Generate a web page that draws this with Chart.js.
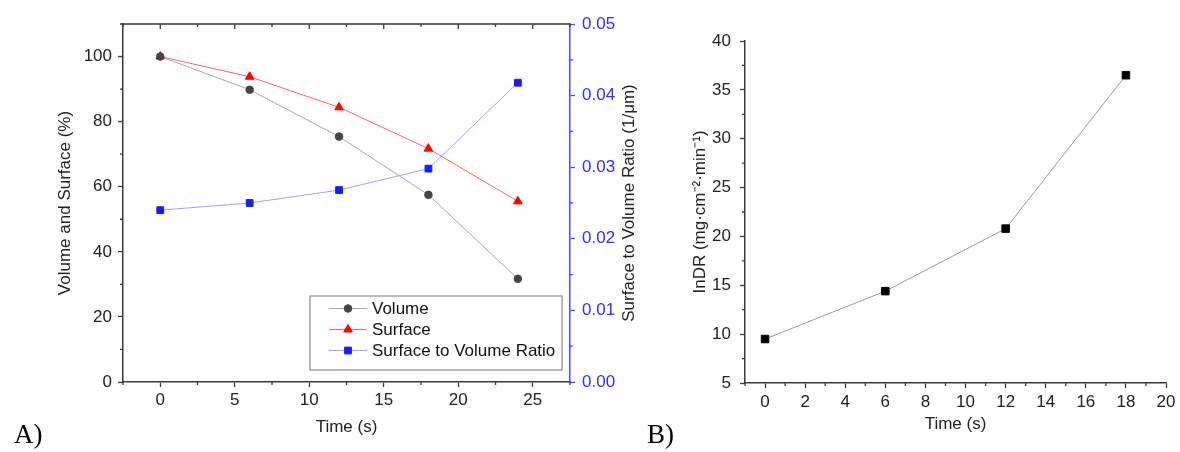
<!DOCTYPE html>
<html>
<head>
<meta charset="utf-8">
<title>Volume, surface and InDR vs time</title>
<script src="https://cdn.jsdelivr.net/npm/chart.js@4.4.1/dist/chart.umd.min.js"></script>
<style>
  html, body { margin: 0; padding: 0; background: #fff; }
  body { width: 1180px; height: 452px; position: relative; overflow: hidden; }
  #wrapA { position: absolute; left: 0; top: 0; width: 660px; height: 452px; }
  #wrapB { position: absolute; left: 660px; top: 0; width: 520px; height: 452px; }
  .tag { position: absolute; font-family: "Liberation Serif", "Times New Roman", serif; font-size: 27px; color: #000; line-height: 1; }
</style>
</head>
<body>
<div id="wrapA"><canvas id="chartA" width="660" height="452"></canvas></div>
<div id="wrapB"><canvas id="chartB" width="520" height="452"></canvas></div>
<div class="tag" style="left:14px; top:421px;">A)</div>
<div class="tag" style="left:647px; top:421px;">B)</div>

<script>
(() => {
  "use strict";

  // Panel A
  const timeA = [0, 6, 12, 18, 24];
  const volume = [100, 89.8, 75.4, 57.5, 31.7];
  const surface = [100, 93.8, 84.4, 71.7, 55.5];
  const ratio = [0.0240, 0.0250, 0.0268, 0.0298, 0.0418];

  const xTicksA = [0, 5, 10, 15, 20, 25];
  const xMinorA = [-2.5, 2.5, 7.5, 12.5, 17.5, 22.5, 27.5];
  const yTicksA = [0, 20, 40, 60, 80, 100];
  const yMinorA = [10, 30, 50, 70, 90, 110];
  const rTicksA = [0, 0.01, 0.02, 0.03, 0.04, 0.05];
  const rMinorA = [0.005, 0.015, 0.025, 0.035, 0.045];

  // Panel B
  const timeB = [0, 6, 12, 18];
  const indr = [9.5, 14.4, 20.8, 36.5];

  const xTicksB = [0, 2, 4, 6, 8, 10, 12, 14, 16, 18, 20];
  const xMinorB = [-1, 1, 3, 5, 7, 9, 11, 13, 15, 17, 19];
  const yTicksB = [5, 10, 15, 20, 25, 30, 35, 40];
  const yMinorB = [7.5, 12.5, 17.5, 22.5, 27.5, 32.5, 37.5];

  const FONT = "'Liberation Sans', Arial, sans-serif";
  const TEXT = "#222";
  const AXIS = "#3a3a3a";
  const BLUE_AXIS = "#4a4aff";
  const BLUE_TEXT = "#2f2fff";

  Chart.defaults.font.family = FONT;
  Chart.defaults.font.size = 17;
  Chart.defaults.color = TEXT;

  const pts = (xs, ys) => xs.map((x, i) => ({ x, y: ys[i] }));
  const fixTicks = values => scale => { scale.ticks = values.map(v => ({ value: v })); };
  const fixWidth = w => scale => { scale.width = w; };
  const fixHeight = h => scale => { scale.height = h; };

  // minor ticks, mirrored top ticks, frame line
  const extraTicks = {
    id: "extraTicks",
    afterDraw(chart, args, opts) {
      const { ctx, chartArea: a } = chart;
      ctx.save();
      ctx.lineWidth = 1.3;
      (opts.marks || []).forEach(m => {
        const s = chart.scales[m.scale];
        ctx.strokeStyle = m.color;
        ctx.beginPath();
        m.values.forEach(v => {
          const p = s.getPixelForValue(v);
          if (m.side === "bottom") { ctx.moveTo(p, a.bottom); ctx.lineTo(p, a.bottom + m.len); }
          if (m.side === "top") { ctx.moveTo(p, a.top); ctx.lineTo(p, a.top + m.len); }
          if (m.side === "left") { ctx.moveTo(a.left, p); ctx.lineTo(a.left - m.len, p); }
          if (m.side === "right") { ctx.moveTo(a.right, p); ctx.lineTo(a.right + m.len, p); }
        });
        ctx.stroke();
      });
      if (opts.topFrame) {
        ctx.strokeStyle = AXIS;
        ctx.lineWidth = 1.5;
        ctx.beginPath();
        ctx.moveTo(a.left, a.top);
        ctx.lineTo(a.right, a.top);
        ctx.stroke();
      }
      ctx.restore();
    }
  };

  // right axis title reads bottom to top, as on the left
  const rightTitle = {
    id: "rightTitle",
    afterDraw(chart, args, opts) {
      if (!opts.text) return;
      const { ctx, chartArea: a } = chart;
      ctx.save();
      ctx.translate(opts.x, (a.top + a.bottom) / 2);
      ctx.rotate(-Math.PI / 2);
      ctx.font = `17px ${FONT}`;
      ctx.fillStyle = TEXT;
      ctx.textAlign = "center";
      ctx.textBaseline = "middle";
      ctx.fillText(opts.text, 0, 0);
      ctx.restore();
    }
  };

  const boxLegend = {
    id: "boxLegend",
    afterDraw(chart, args, opts) {
      if (!opts.show) return;
      const { ctx, chartArea: a } = chart;
      const x1 = a.right - 8, x0 = x1 - 252;
      const y1 = a.bottom - 12, y0 = y1 - 74;
      ctx.save();
      ctx.strokeStyle = "#8c8c8c";
      ctx.lineWidth = 1.2;
      ctx.strokeRect(x0, y0, x1 - x0, y1 - y0);
      ctx.font = `17px ${FONT}`;
      ctx.textBaseline = "middle";
      chart.data.datasets.forEach((ds, i) => {
        const y = y0 + 12.5 + i * 21;
        ctx.strokeStyle = ds.borderColor;
        ctx.lineWidth = 1;
        ctx.beginPath();
        ctx.moveTo(x0 + 19, y);
        ctx.lineTo(x0 + 57, y);
        ctx.stroke();
        ctx.fillStyle = ds.pointBackgroundColor;
        ctx.strokeStyle = ds.pointBorderColor;
        Chart.helpers.drawPoint(ctx, { pointStyle: ds.pointStyle, radius: ds.pointRadius, rotation: 0, borderWidth: 1 }, x0 + 38, y);
        ctx.fillStyle = "#111";
        ctx.fillText(ds.label, x0 + 62, y + 1);
      });
      ctx.restore();
    }
  };

  new Chart(document.getElementById("chartA"), {
    type: "line",
    data: {
      datasets: [
        {
          label: "Volume",
          data: pts(timeA, volume),
          borderColor: "#a8a8a8",
          borderWidth: 1,
          pointStyle: "circle",
          pointRadius: 3.8,
          pointBackgroundColor: "#454545",
          pointBorderColor: "#454545",
          yAxisID: "y"
        },
        {
          label: "Surface",
          data: pts(timeA, surface),
          borderColor: "#ff6060",
          borderWidth: 1,
          pointStyle: "triangle",
          pointRadius: 5,
          pointBackgroundColor: "#ff0000",
          pointBorderColor: "#ff0000",
          yAxisID: "y"
        },
        {
          label: "Surface to Volume Ratio",
          data: pts(timeA, ratio),
          borderColor: "#a0a0ff",
          borderWidth: 1,
          pointStyle: "rect",
          pointRadius: 4.8,
          pointBackgroundColor: "#1a1aff",
          pointBorderColor: "#1a1aff",
          yAxisID: "y1"
        }
      ]
    },
    options: {
      responsive: false,
      animation: false,
      devicePixelRatio: 1,
      layout: { padding: { top: 24, left: 0, right: 0, bottom: 0 } },
      plugins: {
        legend: { display: false },
        tooltip: { enabled: false },
        extraTicks: {
          topFrame: true,
          marks: [
            { scale: "x", values: xMinorA, side: "bottom", len: 3, color: AXIS },
            { scale: "x", values: xTicksA, side: "top", len: 5, color: AXIS },
            { scale: "x", values: xMinorA, side: "top", len: 3, color: AXIS },
            { scale: "y", values: yMinorA, side: "left", len: 3, color: AXIS },
            { scale: "y1", values: rMinorA, side: "right", len: 3, color: BLUE_AXIS }
          ]
        },
        rightTitle: { text: "Surface to Volume Ratio (1/\u03bcm)", x: 629 },
        boxLegend: { show: true }
      },
      scales: {
        x: {
          type: "linear",
          position: "bottom",
          min: -2.5,
          max: 27.5,
          afterBuildTicks: fixTicks(xTicksA),
          afterFit: fixHeight(70),
          grid: { drawOnChartArea: false, drawTicks: true, tickLength: 5, color: AXIS, tickWidth: 1.3 },
          border: { display: true, color: AXIS, width: 1.5 },
          ticks: { padding: 3, autoSkip: false, maxRotation: 0, color: TEXT },
          title: { display: true, text: "Time (s)", color: TEXT, font: { size: 17 }, padding: { top: 0, bottom: 14 } }
        },
        y: {
          type: "linear",
          position: "left",
          min: 0,
          max: 110,
          afterBuildTicks: fixTicks(yTicksA),
          afterFit: fixWidth(123),
          grid: { drawOnChartArea: false, drawTicks: true, tickLength: 5, color: AXIS, tickWidth: 1.3 },
          border: { display: true, color: AXIS, width: 1.5 },
          ticks: { padding: 6, color: TEXT },
          title: { display: true, text: "Volume and Surface (%)", color: TEXT, font: { size: 17 }, padding: { top: 55, bottom: 0 } }
        },
        y1: {
          type: "linear",
          position: "right",
          min: 0,
          max: 0.05,
          afterBuildTicks: fixTicks(rTicksA),
          afterFit: fixWidth(90),
          grid: { drawOnChartArea: false, drawTicks: true, tickLength: 5, color: BLUE_AXIS, tickWidth: 1.3 },
          border: { display: true, color: BLUE_AXIS, width: 1.5 },
          ticks: { padding: 7, color: BLUE_TEXT, callback: v => v.toFixed(2) }
        }
      }
    },
    plugins: [extraTicks, rightTitle, boxLegend]
  });

  new Chart(document.getElementById("chartB"), {
    type: "line",
    data: {
      datasets: [
        {
          label: "InDR",
          data: pts(timeB, indr),
          borderColor: "#9a9a9a",
          borderWidth: 1,
          pointStyle: "rect",
          pointRadius: 5.3,
          pointBackgroundColor: "#000",
          pointBorderColor: "#000"
        }
      ]
    },
    options: {
      responsive: false,
      animation: false,
      devicePixelRatio: 1,
      layout: { padding: { top: 41, left: 0, right: 11, bottom: 0 } },
      plugins: {
        legend: { display: false },
        tooltip: { enabled: false },
        extraTicks: {
          marks: [
            { scale: "x", values: xMinorB, side: "bottom", len: 3, color: AXIS },
            { scale: "y", values: yMinorB, side: "left", len: 3, color: AXIS }
          ]
        }
      },
      scales: {
        x: {
          type: "linear",
          position: "bottom",
          min: -1,
          max: 20,
          afterBuildTicks: fixTicks(xTicksB),
          afterFit: fixHeight(69),
          grid: { drawOnChartArea: false, drawTicks: true, tickLength: 5, color: AXIS, tickWidth: 1.3 },
          border: { display: true, color: AXIS, width: 1.5 },
          ticks: { padding: 4.5, autoSkip: false, maxRotation: 0, color: TEXT },
          title: { display: true, text: "Time (s)", color: TEXT, font: { size: 17 }, padding: { top: 0, bottom: 17 } }
        },
        y: {
          type: "linear",
          position: "left",
          min: 5,
          max: 40,
          afterBuildTicks: fixTicks(yTicksB),
          afterFit: fixWidth(85),
          grid: { drawOnChartArea: false, drawTicks: true, tickLength: 5, color: AXIS, tickWidth: 1.3 },
          border: { display: true, color: AXIS, width: 1.5 },
          ticks: { padding: 9, color: TEXT },
          title: { display: true, text: "InDR (mg\u00b7cm\u207b\u00b2\u00b7min\u207b\u00b9)", color: TEXT, font: { size: 17 }, padding: { top: 30, bottom: 0 } }
        }
      }
    },
    plugins: [extraTicks]
  });
})();
</script>
</body>
</html>
